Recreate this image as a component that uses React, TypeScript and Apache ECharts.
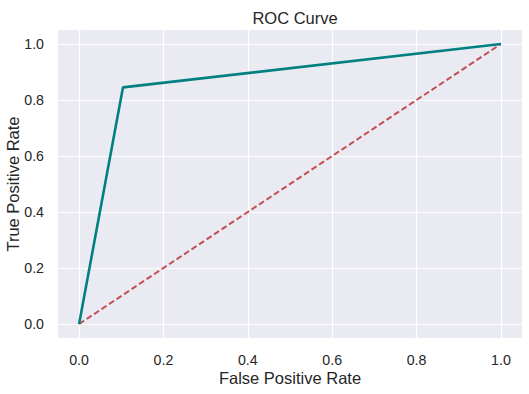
import React, { useEffect, useRef } from "react";
import * as echarts from "echarts";

const fpr = [0, 0.104, 1];
const tpr = [0, 0.845, 1];
const diagX = [0, 1];
const diagY = [0, 1];
const tickValues = [0, 0.2, 0.4, 0.6, 0.8, 1.0];

export default function App() {
  const ref = useRef<HTMLDivElement>(null);
  useEffect(() => {
    if (!ref.current) return;
    const chart = echarts.init(ref.current, null, { renderer: "svg" });
    const font = "Liberation Sans, Arial, sans-serif";
    const textColor = "#262626";
    chart.setOption({
      animation: false,
      title: {
        text: "ROC Curve",
        left: 290,
        top: 4,
        textAlign: "center",
        textStyle: { fontFamily: font, fontSize: 16.5, fontWeight: "normal", color: textColor },
      },
      grid: {
        left: 58,
        right: 7,
        top: 30,
        bottom: 56,
        show: true,
        backgroundColor: "#EAEAF2",
        borderWidth: 0,
        containLabel: false,
        outerBoundsMode: "none",
      },
      xAxis: {
        type: "value",
        min: -0.05,
        max: 1.05,
        name: "False Positive Rate",
        nameLocation: "middle",
        nameGap: 31,
        nameMoveOverlap: false,
        nameTextStyle: { fontFamily: font, fontSize: 16.5, color: textColor },
        axisLine: { show: false },
        axisTick: { show: false, customValues: tickValues },
        axisLabel: {
          customValues: tickValues,
          formatter: (v: number) => v.toFixed(1),
          fontFamily: font,
          fontSize: 14.2,
          color: textColor,
          margin: 15,
        },
        splitLine: { show: true, lineStyle: { color: "#ffffff", width: 1.2 } },
      },
      yAxis: {
        type: "value",
        min: -0.05,
        max: 1.05,
        name: "True Positive Rate",
        nameLocation: "middle",
        nameGap: 37,
        nameMoveOverlap: false,
        nameTextStyle: { fontFamily: font, fontSize: 16.5, color: textColor },
        axisLine: { show: false },
        axisTick: { show: false, customValues: tickValues },
        axisLabel: {
          customValues: tickValues,
          formatter: (v: number) => v.toFixed(1),
          fontFamily: font,
          fontSize: 14.2,
          color: textColor,
          margin: 14,
        },
        splitLine: { show: true, lineStyle: { color: "#ffffff", width: 1.2 } },
      },
      series: [
        {
          type: "line",
          data: fpr.map((x, i) => [x, tpr[i]]),
          showSymbol: false,
          lineStyle: { color: "#008080", width: 2.6 },
          z: 3,
        },
        {
          type: "line",
          data: diagX.map((x, i) => [x, diagY[i]]),
          showSymbol: false,
          lineStyle: { color: "#C44E52", width: 2, type: [6, 3] },
          z: 2,
        },
      ],
    });
    return () => chart.dispose();
  }, []);
  return <div ref={ref} style={{ width: 529, height: 394, position: "absolute", left: 0, top: 0 }} />;
}
